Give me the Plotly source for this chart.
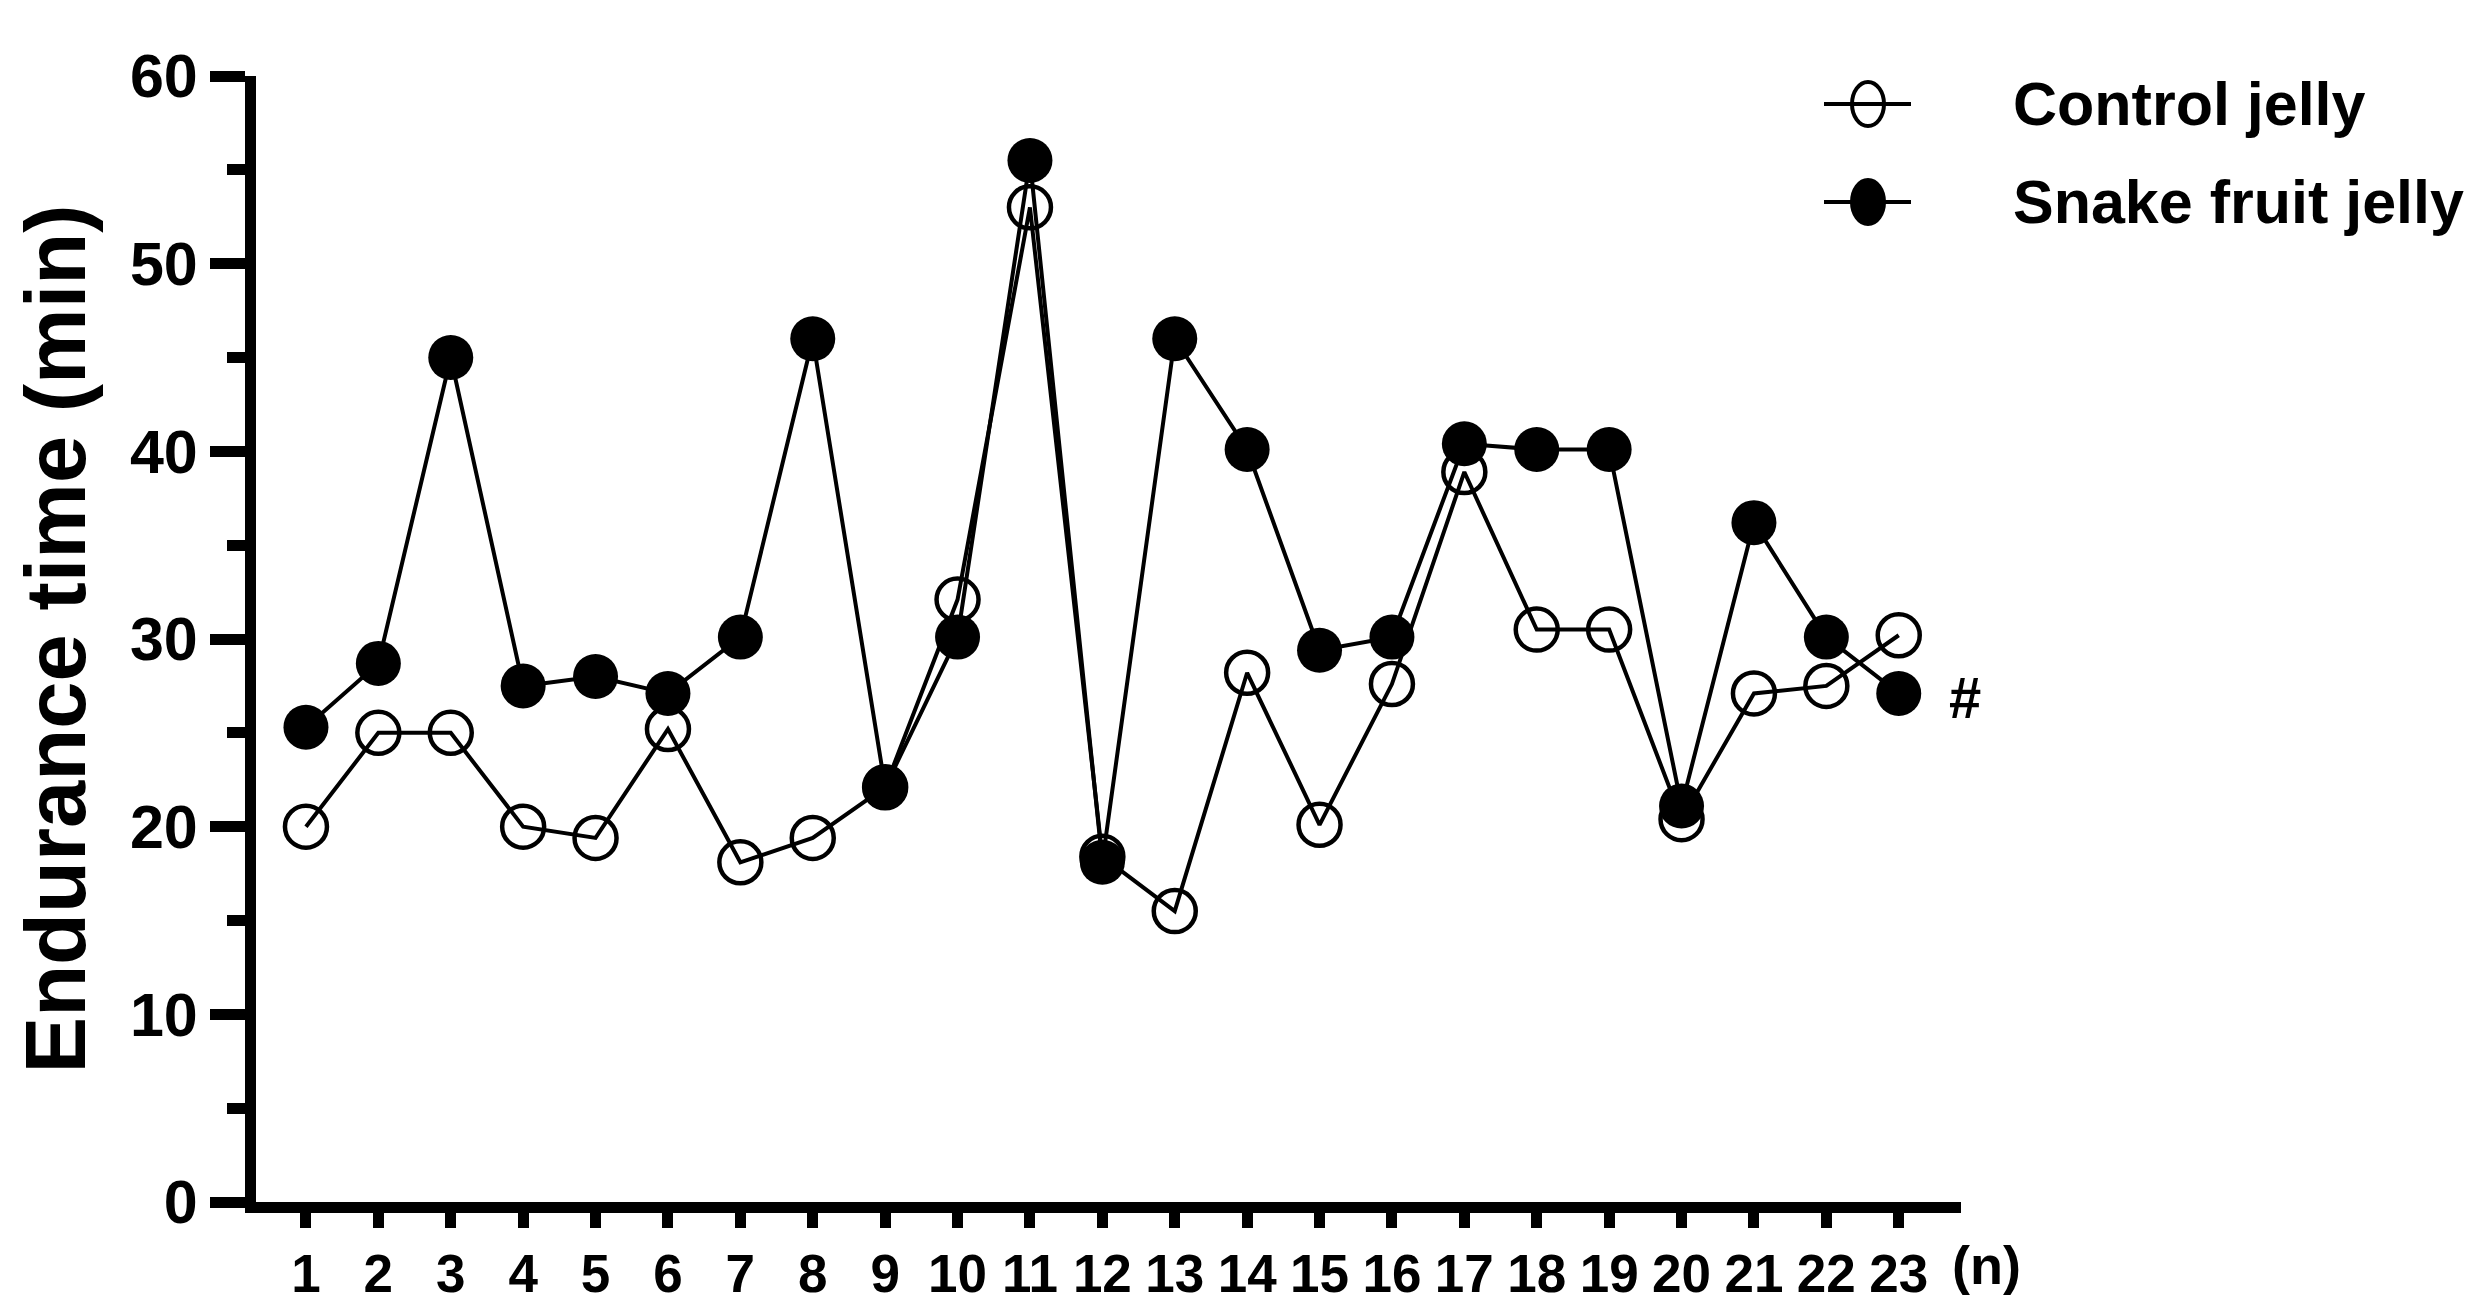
import plotly.graph_objects as go

subjects = list(range(1, 24))
x_tick_labels = [str(i) for i in subjects]
control_jelly = [20, 25, 25, 20, 19.4, 25.2, 18.1, 19.4, 22.1, 32.1, 53, 18.4, 15.5, 28.2,
                 20.1, 27.6, 38.9, 30.5, 30.5, 20.4, 27.1, 27.5, 30.2]
snake_fruit_jelly = [25.3, 28.7, 45, 27.5, 28, 27.1, 30.1, 46, 22.1, 30.1, 55.5, 18.1, 46, 40.1,
                     29.4, 30.1, 40.4, 40.1, 40.1, 21.1, 36.2, 30.1, 27.1]
y_ticks = [0, 10, 20, 30, 40, 50, 60]
series_names = ["Control jelly", "Snake fruit jelly"]

FONT = "Liberation Sans, Arial, sans-serif"

fig = go.Figure()
fig.add_trace(go.Scatter(
    x=subjects, y=control_jelly, mode="lines+markers", name=series_names[0],
    line=dict(color="black", width=4),
    marker=dict(symbol="circle-open", size=42, color="black", line=dict(width=4.5, color="black")),
    showlegend=False,
))
fig.add_trace(go.Scatter(
    x=subjects, y=snake_fruit_jelly, mode="lines+markers", name=series_names[1],
    line=dict(color="black", width=4),
    marker=dict(symbol="circle", size=45, color="black"),
    showlegend=False,
))

W, H = 2475, 1309
L, R, T, B = 248, 522, 68, 115
pw, ph = W - L - R, H - T - B

def px(xp):
    return (xp - L) / pw

def py(yp):
    return (H - B - yp) / ph

# custom legend
shapes = []
annotations = []
rows = [(96, False, series_names[0]), (194, True, series_names[1])]
for yp, filled, name in rows:
    shapes.append(dict(type="line", xref="paper", yref="paper",
                       x0=px(1816), x1=px(1903), y0=py(yp), y1=py(yp),
                       line=dict(color="black", width=4)))
    shapes.append(dict(type="circle", xref="paper", yref="paper",
                       xsizemode="pixel", ysizemode="pixel",
                       xanchor=px(1860), yanchor=py(yp),
                       x0=-16, x1=16, y0=-22, y1=22,
                       fillcolor="black" if filled else "rgba(0,0,0,0)",
                       line=dict(color="black", width=4)))
    annotations.append(dict(xref="paper", yref="paper", x=px(2003), y=py(yp),
                            text=name, showarrow=False, xanchor="left", yanchor="middle",
                            font=dict(family=FONT, size=61, color="black", weight="bold")))

annotations.append(dict(xref="x", yref="y", x=subjects[-1], y=snake_fruit_jelly[-1],
                        xshift=66, yshift=-4, text="#", showarrow=False,
                        font=dict(family=FONT, size=58, color="black", weight="bold")))
annotations.append(dict(xref="paper", yref="paper", x=px(1979), y=py(1257),
                        text="(n)", showarrow=False, xanchor="center", yanchor="middle",
                        font=dict(family=FONT, size=54, color="black", weight="bold")))

fig.update_layout(
    width=W, height=H,
    margin=dict(l=L, r=R, t=T, b=B),
    paper_bgcolor="white", plot_bgcolor="white",
    shapes=shapes, annotations=annotations,
    font=dict(family=FONT, color="black"),
    xaxis=dict(
        range=[0.31, 23.86], tickmode="array", tickvals=subjects, ticktext=x_tick_labels,
        showgrid=False, zeroline=False, showline=True, linecolor="black", linewidth=11,
        ticks="outside", ticklen=15, tickwidth=11, tickcolor="black",
        tickfont=dict(family=FONT, size=53, color="black", weight="bold"),
    ),
    yaxis=dict(
        range=[0, 60], tickmode="array", tickvals=y_ticks,
        showgrid=False, zeroline=False, showline=True, linecolor="black", linewidth=11,
        ticks="outside", ticklen=35, tickwidth=11, tickcolor="black",
        minor=dict(ticks="outside", ticklen=18, tickwidth=11, tickcolor="black", dtick=5, tick0=0),
        tickfont=dict(family=FONT, size=61, color="black", weight="bold"),
        title=dict(text="Endurance time (min)", standoff=22,
                   font=dict(family=FONT, size=85, color="black", weight="bold")),
    ),
)

fig.write_html("out.html")
